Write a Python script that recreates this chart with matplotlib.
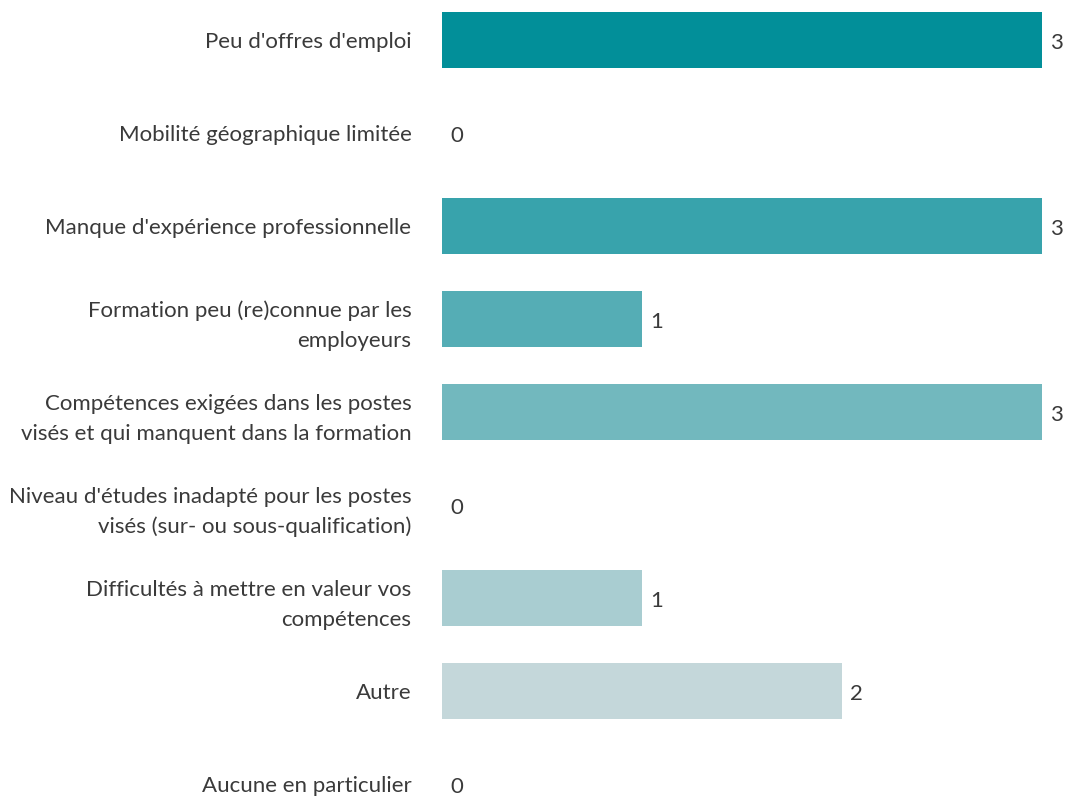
import matplotlib
matplotlib.use("Agg")
import matplotlib.pyplot as plt

categories = [
    "Peu d'offres d'emploi",
    "Mobilité géographique limitée",
    "Manque d'expérience professionnelle",
    "Formation peu (re)connue par les\nemployeurs",
    "Compétences exigées dans les postes\nvisés et qui manquent dans la formation",
    "Niveau d'études inadapté pour les postes\nvisés (sur- ou sous-qualification)",
    "Difficultés à mettre en valeur vos\ncompétences",
    "Autre",
    "Aucune en particulier",
]
values = [3, 0, 3, 1, 3, 0, 1, 2, 0]
colors = ["#028f99", "#1f99a2", "#38a3ac", "#55adb5", "#72b8be",
          "#8ec2c7", "#a9cdd1", "#c4d7da", "#d6e2e4"]

plt.rcParams['font.family'] = ['Lato', 'DejaVu Sans']
text_color = "#3a3a3a"
fs = 16

W, H = 1069, 798
fig = plt.figure(figsize=(W / 100, H / 100), dpi=100)
ax = fig.add_axes([442 / W, 0, 600 / W, 1])

y = list(range(len(categories)))
ax.barh(y, values, height=0.6, color=colors)
ax.set_xlim(0, 3)
ax.set_ylim((798 - 40) / 93, -40 / 93)

for yi, v in zip(y, values):
    ax.annotate(str(v), xy=(v, yi), xytext=(6, -2.5), textcoords="offset points",
                ha="left", va="center", fontsize=fs, color=text_color)

ax.set_yticks(y)
ax.set_yticklabels(categories, fontsize=fs, color=text_color, linespacing=1.6)
ax.tick_params(axis="y", length=0, pad=22)
ax.set_xticks([])
for s in ax.spines.values():
    s.set_visible(False)

fig.savefig("out.png", dpi=100)
